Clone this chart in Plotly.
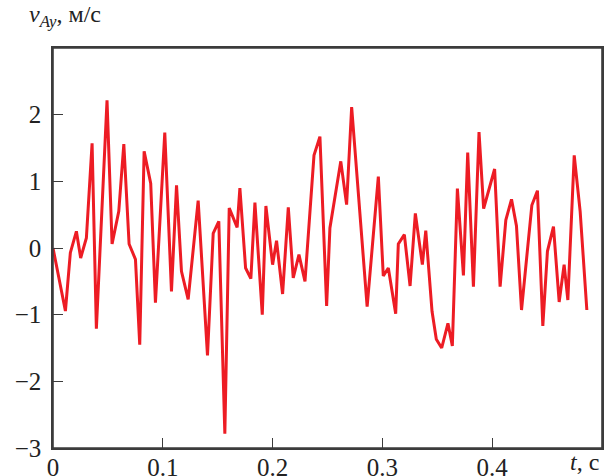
import plotly.graph_objects as go

t = [0, 0.0113, 0.0158, 0.0213, 0.0252, 0.0304, 0.0356, 0.0395, 0.0492, 0.0538,
     0.0599, 0.0645, 0.0693, 0.0751, 0.079, 0.083, 0.089, 0.0933, 0.1018, 0.1079,
     0.1125, 0.117, 0.1231, 0.1322, 0.1407, 0.1459, 0.151, 0.1565, 0.1605, 0.1677,
     0.1702, 0.1754, 0.1802, 0.1839, 0.1906, 0.1939, 0.2, 0.2036, 0.2091, 0.2143,
     0.2188, 0.224, 0.2295, 0.2377, 0.2431, 0.2492, 0.2522, 0.2621, 0.2674, 0.272,
     0.2861, 0.2963, 0.3008, 0.3054, 0.3121, 0.3145, 0.32, 0.3252, 0.33, 0.3364,
     0.3395, 0.3452, 0.3491, 0.354, 0.3597, 0.3637, 0.3683, 0.3738, 0.3777, 0.3829,
     0.388, 0.3922, 0.4022, 0.4072, 0.4124, 0.4176, 0.4221, 0.4267, 0.4361, 0.4412,
     0.4461, 0.4503, 0.4558, 0.461, 0.4655, 0.4689, 0.4747, 0.4801, 0.4862]

v_ay = [0, -0.945, -0.07, 0.25, -0.15, 0.15, 1.57, -1.21, 2.215, 0.06,
        0.55, 1.56, 0.06, -0.17, -1.45, 1.45, 0.97, -0.82, 1.73, -0.65,
        0.94, -0.35, -0.77, 0.71, -1.61, 0.22, 0.40, -2.785, 0.60, 0.31,
        0.90, -0.30, -0.46, 0.68, -1.00, 0.63, -0.25, 0.11, -0.69, 0.61,
        -0.45, -0.10, -0.50, 1.39, 1.67, -0.87, 0.30, 1.30, 0.65, 2.115,
        -0.88, 1.07, -0.42, -0.30, -0.985, 0.06, 0.20, -0.57, 0.52, -0.25,
        0.26, -0.95, -1.37, -1.50, -1.13, -1.47, 0.89, -0.41, 1.43, -0.58,
        1.74, 0.59, 1.185, -0.58, 0.42, 0.73, 0.33, -0.93, 0.64, 0.86,
        -1.17, -0.05, 0.32, -0.81, -0.25, -0.78, 1.39, 0.55, -0.93]

x_tickvals = [0, 0.1, 0.2, 0.3, 0.4]
x_ticktext = ["0", "0.1", "0.2", "0.3", "0.4"]
y_tickvals = [-3, -2, -1, 0, 1, 2]
y_ticktext = ["\u22123", "\u22122", "\u22121", "0", "1", "2"]

FONT = "Liberation Serif, Times New Roman, serif"
AXC = "#3c3c3c"

fig = go.Figure()
fig.add_trace(go.Scatter(x=t, y=v_ay, mode="lines",
                         line=dict(color="#ED1C24", width=3),
                         showlegend=False, hoverinfo="skip"))

fig.update_layout(
    width=605, height=476,
    margin=dict(l=53, r=3, t=48, b=28, autoexpand=False),
    paper_bgcolor="white", plot_bgcolor="white",
    font=dict(family=FONT, size=25, color="#222"),
)
fig.update_xaxes(range=[0, 0.5], tickvals=x_tickvals, ticktext=x_ticktext,
                 automargin=False, ticklabelstandoff=-4,
                 showgrid=False, zeroline=False,
                 showline=True, mirror=True, linecolor=AXC, linewidth=1.5,
                 ticks="inside", ticklen=10, tickwidth=1.3, tickcolor=AXC,
                 tickfont=dict(family=FONT, size=25, color="#222"))
fig.update_yaxes(range=[-3, 3], tickvals=y_tickvals, ticktext=y_ticktext,
                 automargin=False, ticklabelstandoff=5,
                 showgrid=False, zeroline=False,
                 showline=True, mirror=True, linecolor=AXC, linewidth=1.5,
                 ticks="inside", ticklen=10, tickwidth=1.3, tickcolor=AXC,
                 tickfont=dict(family=FONT, size=25, color="#222"))

# frame around the plotting area
fig.add_shape(type="rect", xref="paper", yref="paper", x0=0, y0=0, x1=1, y1=1,
              line=dict(color=AXC, width=1.6), fillcolor="rgba(0,0,0,0)",
              layer="above")

fig.add_annotation(xref="paper", yref="paper", x=-0.047, y=1.0, yshift=15,
                   xanchor="left", yanchor="bottom", showarrow=False,
                   text="<i>v</i><sub><i>Ay</i></sub>, м/с",
                   font=dict(family=FONT, size=24, color="#222"))
fig.add_annotation(xref="paper", yref="paper", x=1.0, y=0.0, yshift=-29,
                   xshift=-1,
                   xanchor="right", yanchor="bottom", showarrow=False,
                   text="<i>t</i>, с",
                   font=dict(family=FONT, size=24, color="#222"))

# remove the browser's default 8px body margin so the figure fills the window
fig.write_html("out.html",
               config={"displayModeBar": False},
               post_script="document.body.style.margin='0';")
